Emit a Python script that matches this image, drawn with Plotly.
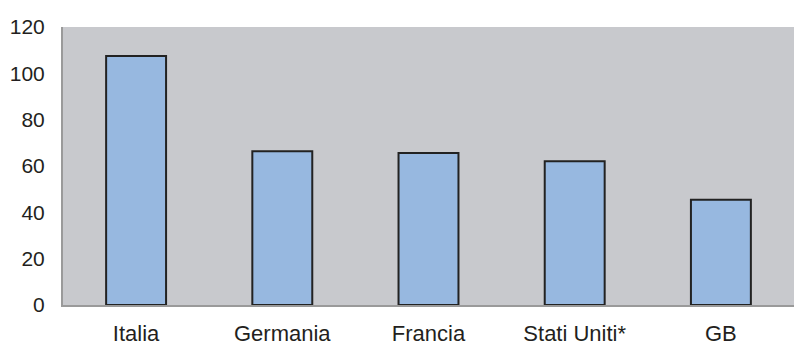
import plotly.graph_objects as go

categories = ["Italia", "Germania", "Francia", "Stati Uniti*", "GB"]
values = [107.5, 66.4, 65.6, 62.0, 45.4]
y_ticks = [0, 20, 40, 60, 80, 100, 120]

fig = go.Figure(go.Bar(
    x=categories, y=values, width=0.41,
    marker=dict(color="#97b8e0", line=dict(color="#222222", width=2)),
))
fig.update_layout(
    width=794, height=346,
    margin=dict(l=63, r=0, t=27, b=39),
    paper_bgcolor="white", plot_bgcolor="#c8c9cd",
    font=dict(family="Liberation Sans, Arial, sans-serif", size=20, color="#231f20"),
    showlegend=False,
)
fig.update_xaxes(showline=True, linecolor="#9a9a9a", linewidth=2, showgrid=False,
                 ticks="outside", ticklen=8, tickcolor="rgba(0,0,0,0)", tickfont=dict(size=22))
fig.update_yaxes(range=[0, 120], tickvals=y_ticks, showline=True, linecolor="#9a9a9a",
                 linewidth=2, showgrid=False, zeroline=False,
                 ticks="outside", ticklen=12, tickcolor="rgba(0,0,0,0)", tickfont=dict(size=21))
fig.write_html("out.html")
